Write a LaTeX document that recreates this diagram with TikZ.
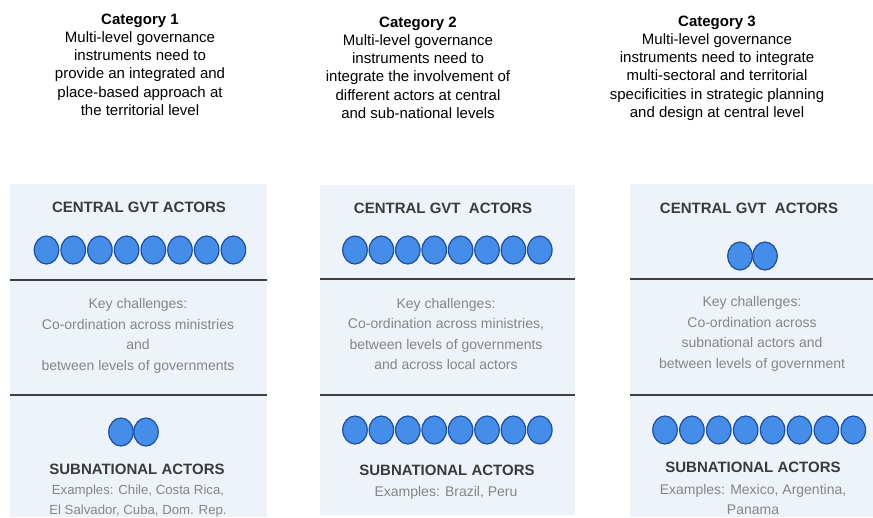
\documentclass[tikz,border=0pt]{standalone}
\usepackage{fontspec}
\setmainfont{Liberation Sans}
\usetikzlibrary{shapes.geometric}
\definecolor{panelbg}{HTML}{EEF3FA}
\definecolor{dotfill}{HTML}{448DE8}
\definecolor{dotline}{HTML}{1E4F9E}
\definecolor{rulecol}{HTML}{3F3F3F}
\definecolor{labcol}{HTML}{3A3A3A}
\definecolor{bodycol}{HTML}{858585}
\tikzset{
  cathead/.style={align=center, font=\fontsize{15}{18.1}\selectfont, inner sep=0, anchor=north},
  panelbox/.style={fill=panelbg, draw=none},
  lab/.style={font=\fontsize{15}{17}\selectfont\bfseries, text=labcol, inner sep=0},
  bodytext/.style={align=center, font=\fontsize{14}{20.5}\selectfont, text=bodycol, inner sep=0},
  smallbody/.style={bodytext, font=\fontsize{13.2}{20}\selectfont},
  dot/.style={ellipse, fill=dotfill, draw=dotline, line width=1.2pt, minimum width=24.5pt, minimum height=28pt, inner sep=0},
  divider/.style={draw=rulecol, line width=2pt}
}
\begin{document}
\begin{tikzpicture}[x=1pt,y=-1pt]
\useasboundingbox (0,0) rectangle (873,517);
% headers
\node[cathead] (cat1) at (140,14) {\textbf{Category 1}\\Multi-level governance\\instruments need to\\provide an integrated and\\place-based approach at\\the territorial level};
\node[cathead] (cat2) at (418,17) {\textbf{Category 2}\\Multi-level governance\\instruments need to\\integrate the involvement of\\different actors at central\\and sub-national levels};
\node[cathead] (cat3) at (717,16) {\textbf{Category 3}\\Multi-level governance\\instruments need to integrate\\multi-sectoral and territorial\\specificities in strategic planning\\and design at central level};
% panels
\fill[panelbox] (10,184) rectangle (267,517);
\fill[panelbox] (320,185) rectangle (575,515);
\fill[panelbox] (630,184) rectangle (873,517);
\draw[divider] (10,280) -- (267,280);
\draw[divider] (10,395) -- (267,395);
\draw[divider] (320,279) -- (575,279);
\draw[divider] (320,395) -- (575,395);
\draw[divider] (630,279) -- (873,279);
\draw[divider] (630,395) -- (873,395);
% panel 1
\node[lab] (c1) at (139,207) {CENTRAL GVT ACTORS};
\foreach \i in {0,...,7} \node[dot] (p1t\i) at (46.5+26.7*\i,250) {};
\node[bodytext] (k1) at (138,336) {Key challenges:\\Co-ordination across ministries\\and\\between levels of governments};
\node[dot] (p1b0) at (121,432) {};
\node[dot] (p1b1) at (146,432) {};
\node[lab] (s1) at (137,469) {SUBNATIONAL ACTORS};
\node[smallbody, anchor=north] (e1) at (138,485) {Examples: Chile, Costa Rica,\\El Salvador, Cuba, Dom. Rep.};
% panel 2
\node[lab] (c2) at (443,208) {CENTRAL GVT\ \ ACTORS};
\foreach \i in {0,...,7} \node[dot] (p2t\i) at (355+26.4*\i,250) {};
\node[bodytext] (k2) at (446,334) {Key challenges:\\Co-ordination across ministries,\\between levels of governments\\and across local actors};
\foreach \i in {0,...,7} \node[dot] (p2b\i) at (355+26.4*\i,430) {};
\node[lab] (s2) at (447,470) {SUBNATIONAL ACTORS};
\node[bodytext] (e2) at (446,493) {Examples: Brazil, Peru};
% panel 3
\node[lab] (c3) at (749,208) {CENTRAL GVT\ \ ACTORS};
\node[dot] (p3t0) at (740,256) {};
\node[dot] (p3t1) at (765,256) {};
\node[bodytext] (k3) at (752,334) {Key challenges:\\Co-ordination across\\subnational actors and\\between levels of government};
\foreach \i in {0,...,7} \node[dot] (p3b\i) at (665+26.9*\i,430) {};
\node[lab] (s3) at (753,467) {SUBNATIONAL ACTORS};
\node[bodytext, anchor=north] (e3) at (753,484) {Examples: Mexico, Argentina,\\Panama};
\end{tikzpicture}
\end{document}
